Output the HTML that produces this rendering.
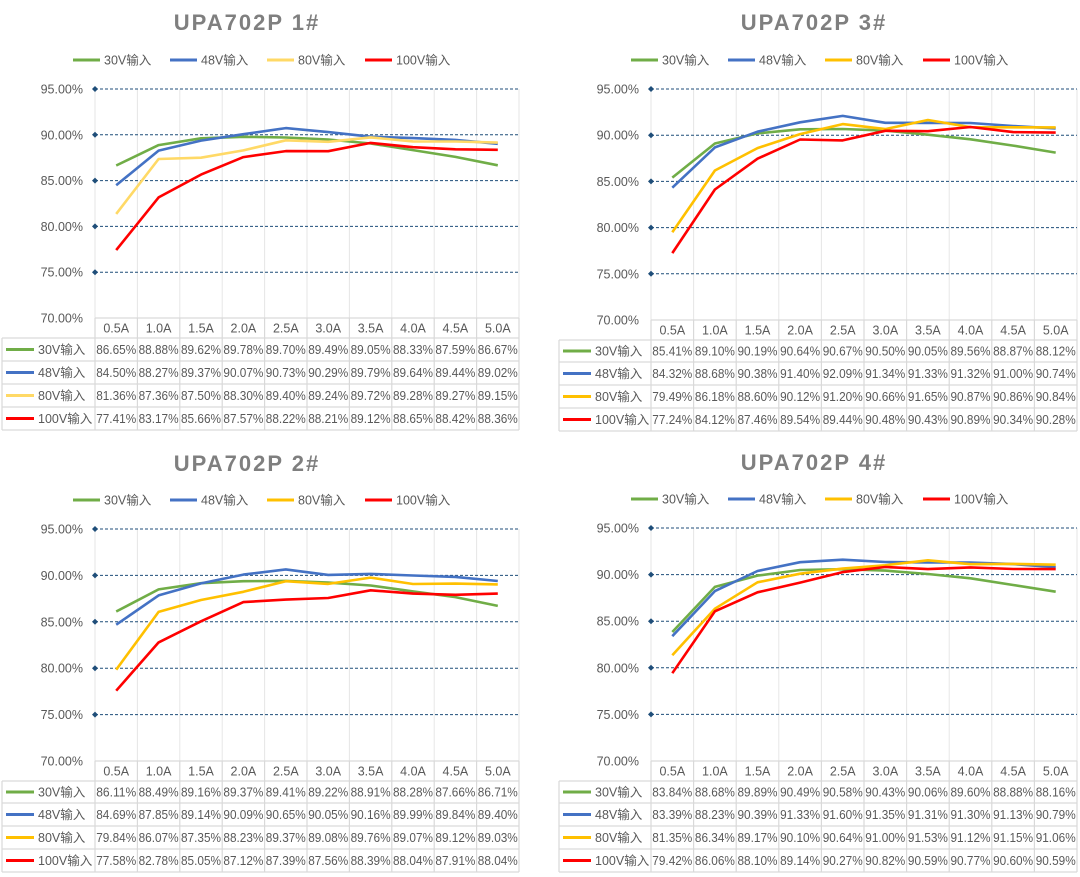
<!DOCTYPE html>
<html><head><meta charset="utf-8">
<style>
html,body{margin:0;padding:0;background:#fff;}
svg{display:block;font-family:"Liberation Sans","Noto Sans CJK SC",sans-serif;}
</style></head>
<body>
<svg id="s" width="1080" height="877" xmlns="http://www.w3.org/2000/svg"></svg>
<script>
const charts=[
 {title:"UPA702P 1#",tx:247,ty:22,ly:60,lx:0,ax:95,rx:519,ox:2,y95:89,y70:318,rows:[338,361,384,407,430],yel:"#ffd966",
  d:[[86.65,88.88,89.62,89.78,89.70,89.49,89.05,88.33,87.59,86.67],[84.50,88.27,89.37,90.07,90.73,90.29,89.79,89.64,89.44,89.02],[81.36,87.36,87.50,88.30,89.40,89.24,89.72,89.28,89.27,89.15],[77.41,83.17,85.66,87.57,88.22,88.21,89.12,88.65,88.42,88.36]]},
 {title:"UPA702P 3#",tx:814,ty:22,ly:60,lx:558,ax:651,rx:1077,ox:559,y95:89,y70:320,rows:[340,362,385,408,431],yel:"#ffc000",
  d:[[85.41,89.10,90.19,90.64,90.67,90.50,90.05,89.56,88.87,88.12],[84.32,88.68,90.38,91.40,92.09,91.34,91.33,91.32,91.00,90.74],[79.49,86.18,88.60,90.12,91.20,90.66,91.65,90.87,90.86,90.84],[77.24,84.12,87.46,89.54,89.44,90.48,90.43,90.89,90.34,90.28]]},
 {title:"UPA702P 2#",tx:247,ty:463,ly:500,lx:0,ax:95,rx:519,ox:2,y95:529,y70:761,rows:[781,803,826,849,872],yel:"#ffc000",
  d:[[86.11,88.49,89.16,89.37,89.41,89.22,88.91,88.28,87.66,86.71],[84.69,87.85,89.14,90.09,90.65,90.05,90.16,89.99,89.84,89.40],[79.84,86.07,87.35,88.23,89.37,89.08,89.76,89.07,89.12,89.03],[77.58,82.78,85.05,87.12,87.39,87.56,88.39,88.04,87.91,88.04]]},
 {title:"UPA702P 4#",tx:814,ty:462,ly:499,lx:558,ax:651,rx:1077,ox:559,y95:528,y70:761,rows:[781,803,826,849,872],yel:"#ffc000",
  d:[[83.84,88.68,89.89,90.49,90.58,90.43,90.06,89.60,88.88,88.16],[83.39,88.23,90.39,91.33,91.60,91.35,91.31,91.30,91.13,90.79],[81.35,86.34,89.17,90.10,90.64,91.00,91.53,91.12,91.15,91.06],[79.42,86.06,88.10,89.14,90.27,90.82,90.59,90.77,90.60,90.59]]}
];
const names=["30V输入","48V输入","80V输入","100V输入"];
const cats=["0.5A","1.0A","1.5A","2.0A","2.5A","3.0A","3.5A","4.0A","4.5A","5.0A"];
let h="";
for(const c of charts){
 const cols=["#70ad47","#4472c4",c.yel,"#ff0000"];
 const cw=(c.rx-c.ax)/10;
 const Y=v=>c.y95+(95-v)/25*(c.y70-c.y95);
 h+=`<text x="${c.tx}" y="${c.ty+8}" text-anchor="middle" font-size="22" font-weight="bold" fill="#7f7f7f" letter-spacing="2">${c.title}</text>`;
 const lxs=[73,170,267,365];
 for(let i=0;i<4;i++){const x=c.lx+lxs[i];
  h+=`<line x1="${x}" y1="${c.ly}" x2="${x+27}" y2="${c.ly}" stroke="${cols[i]}" stroke-width="3"/>`;
  h+=`<text x="${x+31}" y="${c.ly+4.5}" font-size="12.5" fill="#595959">${names[i]}</text>`;}
 // vertical grid
 for(let i=0;i<=10;i++){const x=c.ax+i*cw;h+=`<line x1="${x}" y1="${c.y95}" x2="${x}" y2="${c.y70}" stroke="#e6e6e6" stroke-width="1"/>`;}
 for(let k=0;k<6;k++){const v=95-5*k,y=Y(v);
  h+=`<text x="${c.ax-12}" y="${y+4.5}" text-anchor="end" font-size="12.5" fill="#595959">${v.toFixed(2)}%</text>`;
  if(k<5){h+=`<line x1="${c.ax}" y1="${y}" x2="${c.rx}" y2="${y}" stroke="#1f4e79" stroke-width="1" stroke-dasharray="3,2"/>`;
  h+=`<path d="M${c.ax-3} ${y}L${c.ax} ${y-3}L${c.ax+3} ${y}L${c.ax} ${y+3}Z" fill="#1f4e79"/>`;}
 }
 for(let s=0;s<4;s++){
  const pts=c.d[s].map((v,i)=>`${(c.ax+cw*(i+0.5)).toFixed(1)},${Y(v).toFixed(1)}`).join(" ");
  h+=`<polyline points="${pts}" fill="none" stroke="${cols[s]}" stroke-width="2.6" stroke-linejoin="round"/>`;
 }
 // table
 const top=c.y70,r=c.rows;
 h+=`<g stroke="#d9d9d9" stroke-width="1.2" fill="none">`;
 h+=`<line x1="${c.ax}" y1="${top}" x2="${c.rx}" y2="${top}"/>`;
 for(const y of r)h+=`<line x1="${c.ox}" y1="${y}" x2="${c.rx}" y2="${y}"/>`;
 h+=`<line x1="${c.ox}" y1="${r[0]}" x2="${c.ox}" y2="${r[4]}"/>`;
 for(let i=0;i<=10;i++){const x=c.ax+i*cw;h+=`<line x1="${x}" y1="${top}" x2="${x}" y2="${r[4]}"/>`;}
 h+=`</g>`;
 for(let i=0;i<10;i++)h+=`<text x="${c.ax+cw*(i+0.5)}" y="${(top+r[0])/2+4.5}" text-anchor="middle" font-size="12.5" fill="#595959">${cats[i]}</text>`;
 for(let s=0;s<4;s++){const yc=(r[s]+r[s+1])/2;
  h+=`<line x1="${c.ox+4}" y1="${yc}" x2="${c.ox+32}" y2="${yc}" stroke="${cols[s]}" stroke-width="3"/>`;
  h+=`<text x="${c.ox+36}" y="${yc+4.5}" font-size="12.5" fill="#595959">${names[s]}</text>`;
  for(let i=0;i<10;i++)h+=`<text x="${c.ax+cw*(i+0.5)}" y="${yc+4.5}" text-anchor="middle" font-size="12.5" fill="#595959" textLength="${Math.min(cw-2,40)}" lengthAdjust="spacingAndGlyphs">${c.d[s][i].toFixed(2)}%</text>`;
 }
}
document.getElementById("s").innerHTML=h;
</script>
</body></html>
